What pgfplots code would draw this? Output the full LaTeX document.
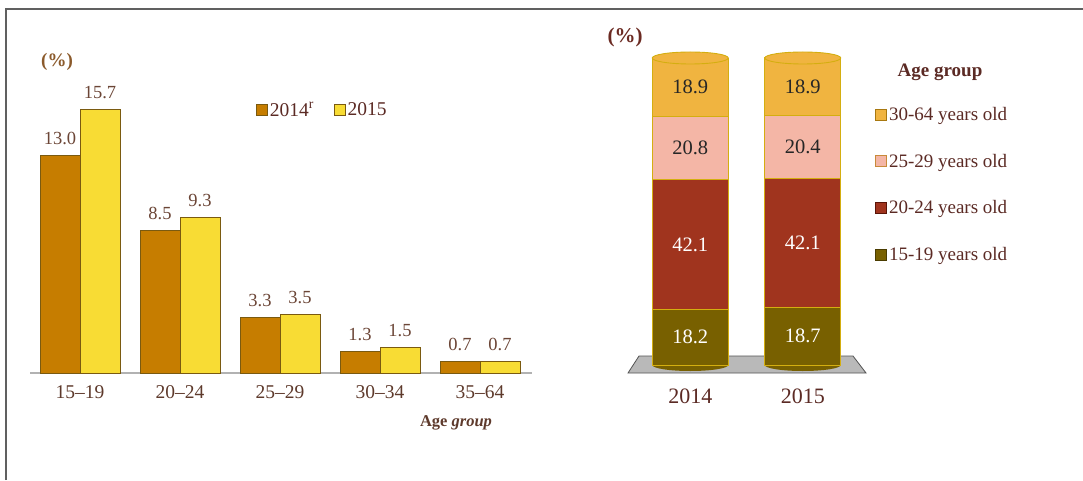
\documentclass[border=0pt]{standalone}
\usepackage{fontspec}
\setmainfont{Liberation Serif}
\usepackage{pgfplots}
\usepackage{pgfplotstable}
\pgfplotsset{compat=1.18}

\definecolor{cA}{HTML}{C67D00}
\definecolor{cB}{HTML}{F8DC34}
\definecolor{edgeL}{HTML}{7A5A10}
\definecolor{numc}{HTML}{6B4536}
\definecolor{labc}{HTML}{5E3A2C}
\definecolor{pctL}{HTML}{8B5A2B}
\definecolor{pctR}{HTML}{6B2A22}
\definecolor{legc}{HTML}{5B2A24}
% cylinder colours
\definecolor{t1}{HTML}{786000}\definecolor{t1d}{HTML}{4A3C00}
\definecolor{t2}{HTML}{A0341E}\definecolor{t2d}{HTML}{5A1508}
\definecolor{t3}{HTML}{F4B6A6}\definecolor{t3d}{HTML}{C88A3A}
\definecolor{t4}{HTML}{F0B440}\definecolor{t4d}{HTML}{A87810}
\definecolor{segedge}{HTML}{D4AE10}

\pgfplotstableread{
x a b
0 13.0 15.7
1 8.5 9.3
2 3.3 3.5
3 1.3 1.5
4 0.7 0.7
}\leftdata

\pgfplotstableread{
x a b c d
0 18.2 42.1 20.8 18.9
1 18.7 42.1 20.4 18.9
}\rightdata

\pgfplotsset{rightax/.style={
  at={(634pt,115pt)}, anchor=south west, scale only axis,
  width=225pt, height=307pt,
  xmin=-0.5, xmax=1.5, ymin=0, ymax=100, clip=false}}

\begin{document}
\begin{tikzpicture}[x=1pt,y=1pt]
\useasboundingbox (0,0) rectangle (1083,480);
\draw[line width=1.6pt, color=gray!75!black] (6,0) -- (6,471) -- (1083,471);

% ---------------- left chart
\begin{axis}[
  at={(30pt,107pt)}, anchor=south west, scale only axis,
  width=502pt, height=301.7pt,
  xmin=-0.5, xmax=4.52, ymin=0, ymax=18,
  axis x line*=bottom, axis y line=none,
  x axis line style={-, draw=gray!60, line width=1.2pt},
  ytick=\empty,
  xtick={0,1,2,3,4}, xticklabels={15--19,20--24,25--29,30--34,35--64},
  major tick length=0pt,
  xticklabel style={font=\fontsize{19.5}{22}\selectfont, text=labc, yshift=-9pt},
  ybar=0pt, bar width=40pt,
  nodes near coords={\pgfmathprintnumber[fixed,fixed zerofill,precision=1,assume math mode=true]{\pgfplotspointmeta}},
  every node near coord/.append style={font=\fontsize{18.5}{21}\selectfont, text=numc, yshift=7pt},
  legend style={at={(0.444,0.872)}, anchor=west, draw=none, fill=none,
    legend columns=2, font=\fontsize{19.5}{22}\selectfont, text=legc,
    /tikz/every even column/.append style={column sep=18pt}},
  legend image code/.code={\draw[#1] (-6pt,-5.5pt) rectangle (5pt,5.5pt);},
]
\addplot[fill=cA, draw=edgeL, line width=0.8pt] table[x=x,y=a]{\leftdata};
\addplot[fill=cB, draw=edgeL, line width=0.8pt] table[x=x,y=b]{\leftdata};
\legend{2014\textsuperscript{r}, 2015}
\end{axis}

\node[font=\bfseries\fontsize{19}{22}\selectfont, text=pctL] at (57,418) {(\%)};
\node[font=\bfseries\fontsize{16.5}{19}\selectfont, text=labc] at (456,57) {Age \textit{group}};

% ---------------- right chart
\fill[gray!55, draw=gray!65!black, line width=0.8pt] (639,124) -- (853,124) -- (866,107) -- (628,107) -- cycle;

% cylinder bottoms
\begin{axis}[rightax, hide axis]
\pgfplotsinvokeforeach{0,1}{
  \fill[t1] (axis cs:#1,0) ellipse[x radius=38pt, y radius=6pt];
}
\end{axis}

\begin{axis}[
  rightax,
  ybar stacked, bar width=76pt,
  axis line style={draw=none}, major tick length=0pt, ytick=\empty,
  xtick={0,1}, xticklabels={2014,2015},
  xticklabel style={font=\fontsize{22}{26}\selectfont, text=legc, yshift=-20pt},
  legend style={at={(1.058,0.853)}, anchor=north west, draw=none, fill=none,
    font=\fontsize{19}{22}\selectfont, text=legc, row sep=28pt,
    cells={anchor=west}},
  reverse legend,
]
\addplot[fill=t1, draw=segedge, line width=0.8pt,
  legend image code/.code={\draw[fill=t1, draw=t1d] (-5pt,-5.5pt) rectangle (6pt,5.5pt);}]
  table[x=x,y=a]{\rightdata};
\addplot[fill=t2, draw=segedge, line width=0.8pt,
  legend image code/.code={\draw[fill=t2, draw=t2d] (-5pt,-5.5pt) rectangle (6pt,5.5pt);}]
  table[x=x,y=b]{\rightdata};
\addplot[fill=t3, draw=segedge, line width=0.8pt,
  legend image code/.code={\draw[fill=t3, draw=t3d] (-5pt,-5.5pt) rectangle (6pt,5.5pt);}]
  table[x=x,y=c]{\rightdata};
\addplot[fill=t4, draw=segedge, line width=0.8pt,
  legend image code/.code={\draw[fill=t4, draw=t4d] (-5pt,-5.5pt) rectangle (6pt,5.5pt);}]
  table[x=x,y=d]{\rightdata};
\legend{15-19 years old, 20-24 years old, 25-29 years old, 30-64 years old}
\end{axis}

% cylinder caps
\begin{axis}[rightax, hide axis]
\pgfplotsinvokeforeach{0,1}{
  \draw[fill=t4, draw=segedge, line width=0.9pt] (axis cs:#1,100) ellipse[x radius=38pt, y radius=6pt];
}
\end{axis}

\begin{axis}[
  rightax, hide axis,
  point meta=explicit,
  nodes near coords={\pgfmathprintnumber[fixed,fixed zerofill,precision=1,assume math mode=true]{\pgfplotspointmeta}},
  every node near coord/.append style={anchor=center, font=\fontsize{20.5}{24}\selectfont},
]
\addplot[draw=none, mark=none, every node near coord/.append style={text=white}]
  table[x=x, y expr=\thisrow{a}/2, meta=a]{\rightdata};
\addplot[draw=none, mark=none, every node near coord/.append style={text=white}]
  table[x=x, y expr=\thisrow{a}+\thisrow{b}/2, meta=b]{\rightdata};
\addplot[draw=none, mark=none, every node near coord/.append style={text=black!85}]
  table[x=x, y expr=\thisrow{a}+\thisrow{b}+\thisrow{c}/2, meta=c]{\rightdata};
\addplot[draw=none, mark=none, every node near coord/.append style={text=black!85}]
  table[x=x, y expr=\thisrow{a}+\thisrow{b}+\thisrow{c}+\thisrow{d}/2, meta=d]{\rightdata};
\end{axis}

\node[font=\bfseries\fontsize{21}{24}\selectfont, text=pctR] at (625,443) {(\%)};
\node[font=\bfseries\fontsize{19}{22}\selectfont, text=legc] at (940,408) {Age group};
\end{tikzpicture}
\end{document}
